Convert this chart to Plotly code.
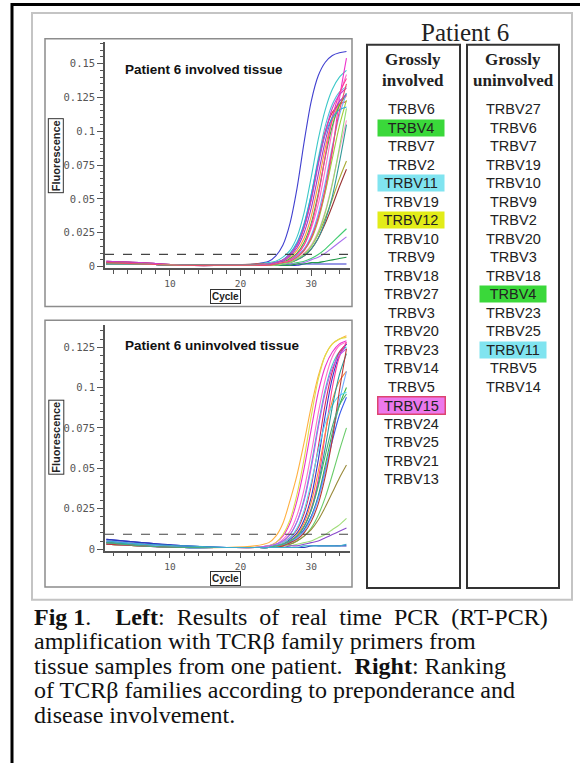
import plotly.graph_objects as go

# ------------------------------------------------------------
# data
# ------------------------------------------------------------

CYCLES = [1, 6, 12, 18, 22, 24, 25, 26, 27, 28, 29, 30, 31, 32, 33, 34, 35]

# fluorescence curves, involved tissue
INVOLVED_CURVES = [
    [0.004, 0.003, 0.001, 0.001, 0.002, 0.004, 0.008, 0.016, 0.032, 0.058, 0.092, 0.122, 0.141, 0.151, 0.156, 0.158, 0.159],
    [0.003, 0.002, 0.001, 0.001, 0.002, 0.003, 0.004, 0.007, 0.012, 0.022, 0.040, 0.066, 0.094, 0.116, 0.131, 0.140, 0.145],
    [0.002, 0.002, 0.001, 0.001, 0.001, 0.002, 0.003, 0.005, 0.009, 0.017, 0.031, 0.053, 0.080, 0.104, 0.120, 0.129, 0.133],
    [0.003, 0.002, 0.001, 0.001, 0.001, 0.001, 0.002, 0.003, 0.005, 0.008, 0.013, 0.022, 0.036, 0.056, 0.085, 0.124, 0.154],
    [0.002, 0.002, 0.001, 0.001, 0.001, 0.001, 0.002, 0.003, 0.005, 0.009, 0.016, 0.028, 0.046, 0.072, 0.101, 0.126, 0.142],
    [0.004, 0.003, 0.001, 0.001, 0.002, 0.002, 0.003, 0.005, 0.009, 0.016, 0.029, 0.050, 0.077, 0.100, 0.114, 0.120, 0.122],
    [0.003, 0.002, 0.001, 0.001, 0.001, 0.002, 0.003, 0.004, 0.007, 0.012, 0.021, 0.037, 0.061, 0.088, 0.108, 0.120, 0.126],
    [0.002, 0.002, 0.001, 0.001, 0.001, 0.001, 0.002, 0.003, 0.006, 0.010, 0.018, 0.032, 0.054, 0.081, 0.104, 0.119, 0.128],
    [0.003, 0.002, 0.001, 0.001, 0.001, 0.001, 0.002, 0.003, 0.004, 0.007, 0.012, 0.020, 0.034, 0.055, 0.080, 0.104, 0.123],
    [0.002, 0.002, 0.001, 0.001, 0.001, 0.001, 0.002, 0.003, 0.004, 0.008, 0.013, 0.023, 0.039, 0.062, 0.089, 0.112, 0.128],
    [0.003, 0.002, 0.001, 0.001, 0.001, 0.002, 0.003, 0.004, 0.008, 0.014, 0.025, 0.043, 0.068, 0.093, 0.111, 0.122, 0.127],
    [0.002, 0.002, 0.001, 0.001, 0.001, 0.001, 0.002, 0.003, 0.005, 0.009, 0.016, 0.030, 0.052, 0.082, 0.110, 0.128, 0.139],
    [0.003, 0.002, 0.001, 0.001, 0.001, 0.001, 0.002, 0.002, 0.003, 0.005, 0.008, 0.013, 0.021, 0.032, 0.045, 0.059, 0.072],
    [0.002, 0.002, 0.001, 0.001, 0.001, 0.001, 0.002, 0.002, 0.003, 0.005, 0.009, 0.015, 0.024, 0.036, 0.050, 0.065, 0.078],
    [0.002, 0.002, 0.001, 0.001, 0.001, 0.001, 0.001, 0.002, 0.002, 0.003, 0.004, 0.006, 0.009, 0.013, 0.018, 0.023, 0.028],
    [0.002, 0.002, 0.001, 0.001, 0.001, 0.001, 0.001, 0.001, 0.002, 0.002, 0.003, 0.005, 0.007, 0.010, 0.014, 0.018, 0.022],
    [0.003, 0.002, 0.001, 0.001, 0.001, 0.001, 0.002, 0.003, 0.004, 0.006, 0.010, 0.016, 0.026, 0.041, 0.062, 0.086, 0.108],
    [0.002, 0.002, 0.001, 0.001, 0.001, 0.002, 0.003, 0.005, 0.010, 0.018, 0.032, 0.053, 0.078, 0.098, 0.110, 0.116, 0.118],
    [0.002, 0.002, 0.001, 0.001, 0.001, 0.001, 0.001, 0.002, 0.003, 0.005, 0.008, 0.013, 0.021, 0.034, 0.052, 0.077, 0.105],
    [0.002, 0.002, 0.001, 0.001, 0.001, 0.001, 0.001, 0.001, 0.001, 0.001, 0.002, 0.002, 0.002, 0.002, 0.002, 0.002, 0.002],
    [0.003, 0.002, 0.001, 0.001, 0.001, 0.001, 0.001, 0.001, 0.001, 0.002, 0.002, 0.003, 0.003, 0.004, 0.005, 0.006, 0.007],
    [0.004, 0.003, 0.001, 0.001, 0.001, 0.002, 0.003, 0.005, 0.009, 0.016, 0.029, 0.049, 0.075, 0.099, 0.117, 0.127, 0.132],
    [0.002, 0.002, 0.001, 0.001, 0.001, 0.001, 0.001, 0.002, 0.003, 0.006, 0.009, 0.015, 0.025, 0.040, 0.061, 0.088, 0.117],
    [0.003, 0.002, 0.001, 0.001, 0.001, 0.001, 0.002, 0.003, 0.004, 0.007, 0.012, 0.021, 0.036, 0.058, 0.087, 0.115, 0.135],
]
INVOLVED_COLORS = [
    "#4040d0", "#3cc8c8", "#52bedc", "#ee33cc", "#ff70cc", "#dd3838",
    "#ff9a3a", "#3cb83c", "#a0cc3a", "#70aaff", "#9a40cc", "#ff3a99",
    "#993333", "#aaaa33", "#40cc70", "#aa70ee", "#ff9acc", "#2aaadd",
    "#339999", "#3333cc", "#22994a", "#cc3ccc", "#90dd70", "#ee4a6a",
]

# fluorescence curves, uninvolved tissue
UNINVOLVED_CURVES = [
    [0.005, 0.003, 0.001, 0.001, 0.002, 0.004, 0.008, 0.016, 0.030, 0.046, 0.066, 0.088, 0.107, 0.120, 0.127, 0.130, 0.132],
    [0.004, 0.003, 0.001, 0.001, 0.001, 0.002, 0.004, 0.008, 0.016, 0.030, 0.050, 0.074, 0.097, 0.113, 0.122, 0.127, 0.129],
    [0.005, 0.003, 0.001, 0.001, 0.001, 0.002, 0.003, 0.006, 0.011, 0.021, 0.037, 0.059, 0.084, 0.105, 0.119, 0.126, 0.128],
    [0.004, 0.003, 0.001, 0.001, 0.001, 0.002, 0.003, 0.005, 0.009, 0.017, 0.031, 0.052, 0.077, 0.099, 0.114, 0.122, 0.125],
    [0.004, 0.002, 0.001, 0.001, 0.001, 0.001, 0.002, 0.004, 0.007, 0.012, 0.022, 0.039, 0.063, 0.090, 0.110, 0.122, 0.127],
    [0.006, 0.004, 0.002, 0.001, 0.001, 0.001, 0.002, 0.003, 0.006, 0.010, 0.018, 0.032, 0.055, 0.083, 0.106, 0.120, 0.127],
    [0.003, 0.002, 0.001, 0.001, 0.001, 0.001, 0.002, 0.003, 0.005, 0.008, 0.014, 0.025, 0.043, 0.071, 0.100, 0.119, 0.128],
    [0.004, 0.003, 0.001, 0.001, 0.001, 0.001, 0.002, 0.003, 0.005, 0.009, 0.016, 0.029, 0.048, 0.072, 0.092, 0.104, 0.110],
    [0.003, 0.002, 0.001, 0.001, 0.001, 0.001, 0.002, 0.003, 0.004, 0.007, 0.012, 0.020, 0.033, 0.052, 0.072, 0.089, 0.100],
    [0.004, 0.003, 0.001, 0.001, 0.001, 0.001, 0.002, 0.004, 0.007, 0.013, 0.024, 0.041, 0.061, 0.078, 0.089, 0.095, 0.097],
    [0.005, 0.003, 0.001, 0.001, 0.001, 0.001, 0.002, 0.003, 0.004, 0.007, 0.012, 0.020, 0.032, 0.049, 0.067, 0.083, 0.094],
    [0.003, 0.002, 0.001, 0.001, 0.001, 0.001, 0.001, 0.002, 0.003, 0.005, 0.008, 0.013, 0.021, 0.032, 0.046, 0.061, 0.075],
    [0.003, 0.002, 0.001, 0.001, 0.001, 0.001, 0.001, 0.002, 0.003, 0.005, 0.008, 0.012, 0.018, 0.026, 0.035, 0.044, 0.052],
    [0.003, 0.002, 0.001, 0.001, 0.001, 0.001, 0.001, 0.002, 0.002, 0.003, 0.004, 0.005, 0.007, 0.009, 0.012, 0.015, 0.019],
    [0.004, 0.002, 0.001, 0.001, 0.001, 0.001, 0.001, 0.001, 0.002, 0.002, 0.003, 0.004, 0.005, 0.007, 0.009, 0.011, 0.013],
    [0.003, 0.002, 0.001, 0.001, 0.001, 0.002, 0.004, 0.009, 0.018, 0.034, 0.056, 0.082, 0.105, 0.120, 0.127, 0.130, 0.131],
    [0.004, 0.003, 0.001, 0.001, 0.001, 0.001, 0.002, 0.003, 0.005, 0.008, 0.014, 0.024, 0.040, 0.063, 0.088, 0.108, 0.121],
    [0.003, 0.002, 0.001, 0.001, 0.001, 0.002, 0.003, 0.005, 0.009, 0.017, 0.030, 0.050, 0.075, 0.097, 0.112, 0.120, 0.124],
    [0.005, 0.003, 0.001, 0.001, 0.001, 0.001, 0.002, 0.003, 0.004, 0.007, 0.011, 0.019, 0.031, 0.048, 0.070, 0.092, 0.110],
    [0.006, 0.004, 0.002, 0.001, 0.001, 0.001, 0.001, 0.001, 0.001, 0.001, 0.001, 0.002, 0.002, 0.002, 0.002, 0.002, 0.002],
    [0.003, 0.002, 0.001, 0.001, 0.001, 0.001, 0.001, 0.002, 0.004, 0.006, 0.010, 0.017, 0.028, 0.045, 0.068, 0.098, 0.124],
    [0.004, 0.002, 0.001, 0.001, 0.001, 0.001, 0.002, 0.003, 0.005, 0.008, 0.014, 0.024, 0.039, 0.058, 0.076, 0.089, 0.096],
    [0.005, 0.003, 0.002, 0.001, 0.001, 0.001, 0.001, 0.001, 0.001, 0.001, 0.002, 0.002, 0.002, 0.002, 0.002, 0.002, 0.003],
]
UNINVOLVED_COLORS = [
    "#ffb040", "#ee33cc", "#ff70cc", "#3cc8c8", "#dd2a5a", "#3535cc",
    "#ff3a99", "#ff8a3a", "#3cb83c", "#5adcee", "#3a5aee", "#6acc6a",
    "#998a3a", "#a0dd7a", "#8a4acc", "#e0dc4a", "#2a9a9a", "#bb5aee",
    "#70aaff", "#2a3abb", "#bb3838", "#4aaa7a", "#3aaacc",
]

THRESHOLD_INVOLVED = 0.009
THRESHOLD_UNINVOLVED = 0.0092

Y_TICKS = [0, 0.025, 0.05, 0.075, 0.1, 0.125, 0.15]
Y_TICK_TEXT = ["0", "0.025", "0.05", "0.075", "0.1", "0.125", "0.15"]
X_TICKS = [10, 20, 30]

RANK_INVOLVED = [
    "TRBV6", "TRBV4", "TRBV7", "TRBV2", "TRBV11", "TRBV19", "TRBV12",
    "TRBV10", "TRBV9", "TRBV18", "TRBV27", "TRBV3", "TRBV20", "TRBV23",
    "TRBV14", "TRBV5", "TRBV15", "TRBV24", "TRBV25", "TRBV21", "TRBV13",
]
RANK_UNINVOLVED = [
    "TRBV27", "TRBV6", "TRBV7", "TRBV19", "TRBV10", "TRBV9", "TRBV2",
    "TRBV20", "TRBV3", "TRBV18", "TRBV4", "TRBV23", "TRBV25", "TRBV11",
    "TRBV5", "TRBV14",
]

# first line is set wider in the original (loose word spacing)
NB = "\u00a0"
CAPTION_LINES = [
    f"<b>Fig 1</b>.{NB}{NB}{NB} <b>Left</b>:{NB} Results{NB} of{NB} real{NB} time{NB} PCR{NB} (RT-PCR)",
    "amplification with TCRβ family primers from",
    f"tissue samples from one patient.{NB} <b>Right</b>: Ranking",
    "of TCRβ families according to preponderance and",
    "disease involvement.",
]

# ------------------------------------------------------------
# layout helpers (pixel -> paper)
# ------------------------------------------------------------

W, H = 580, 767

HIGHLIGHT = {
    "TRBV4": ("#3ad83a", None),
    "TRBV11": ("#80e4f0", None),
    "TRBV12": ("#e2ec18", None),
    "TRBV15": ("#ec78ec", "#dd4470"),
}


def px(x):
    return x / W


def py(y):
    return 1 - y / H


SERIF = "Liberation Serif, Times New Roman, serif"
SANS = "Liberation Sans, Arial, sans-serif"
MONO = "DejaVu Sans Mono, monospace"

fig = go.Figure()

for vals, cor in zip(INVOLVED_CURVES, INVOLVED_COLORS):
    fig.add_trace(go.Scatter(
        x=CYCLES, y=vals, mode="lines", xaxis="x", yaxis="y",
        line=dict(color=cor, width=1.1, shape="spline", smoothing=0.8),
        showlegend=False, hoverinfo="skip"
    ))

for vals, cor in zip(UNINVOLVED_CURVES, UNINVOLVED_COLORS):
    fig.add_trace(go.Scatter(
        x=CYCLES, y=vals, mode="lines", xaxis="x2", yaxis="y2",
        line=dict(color=cor, width=1.1, shape="spline", smoothing=0.8),
        showlegend=False, hoverinfo="skip"
    ))

# threshold lines
for yref, xref, thr in [("y", "x domain", THRESHOLD_INVOLVED),
                        ("y2", "x2 domain", THRESHOLD_UNINVOLVED)]:
    fig.add_shape(type="line", xref=xref, yref=yref, x0=0, x1=1,
                  y0=thr, y1=thr, line=dict(color="#444", width=1.2, dash="dash"))

# outer black border: only its top and left edges fall inside the page
for x0, y0, x1, y1 in [(11, 4.5, 580, 4.5), (12, 3, 12, 767)]:
    fig.add_shape(type="line", xref="paper", yref="paper",
                  x0=px(x0), x1=px(x1), y0=py(y0), y1=py(y1),
                  line=dict(color="black", width=3))

# frames
frames = [
    (32, 13, 572, 603, "#c4c4c4", 2),      # picture frame
    (45, 39, 352, 308, "#8c8c8c", 1.5),    # top panel
    (45, 322, 352, 590, "#8c8c8c", 1.5),   # bottom panel
    (367, 45, 460, 591, "#333333", 2),     # involved ranking
    (467, 45, 559, 591, "#333333", 2),     # uninvolved ranking
]
for x0, y0, x1, y1, cor, lw in frames:
    fig.add_shape(type="rect", xref="paper", yref="paper",
                  x0=px(x0), x1=px(x1), y0=py(y0), y1=py(y1),
                  line=dict(color=cor, width=lw), layer="below")

anots = []


def texto(x, y, t, font, xanchor="center", **kw):
    d = dict(x=px(x), y=py(y), xref="paper", yref="paper", text=t,
             showarrow=False, xanchor=xanchor, yanchor="middle", font=font)
    d.update(kw)
    anots.append(d)


# panel titles and axis titles
for titulo, y_tit, y_fl, y_cy in [
    ("Patient 6 involved tissue", 70, 157, 298),
    ("Patient 6 uninvolved tissue", 347, 440, 582),
]:
    texto(123, y_tit, f"<b>{titulo}</b>", dict(family=SANS, size=13.5, color="#111"),
          xanchor="left")
    texto(56, y_fl, "<b>Fluorescence</b>", dict(family=SANS, size=11, color="#222"),
          textangle=-90, bordercolor="#333", borderwidth=1, borderpad=1)
    texto(225, y_cy, "<b>Cycle</b>", dict(family=SANS, size=10, color="#222"),
          bordercolor="#333", borderwidth=1, borderpad=1)

# ranking headers
texto(465, 33, "Patient 6", dict(family=SERIF, size=25, color="#222"))
for xc, linha2 in [(413, "involved"), (513, "uninvolved")]:
    texto(xc, 60, "<b>Grossly</b>", dict(family=SERIF, size=17, color="#222"))
    texto(xc, 81, f"<b>{linha2}</b>", dict(family=SERIF, size=17, color="#222"))

# ranking lists
for xc, lista in [(411, RANK_INVOLVED), (513, RANK_UNINVOLVED)]:
    for i, nome in enumerate(lista):
        extra = {}
        if nome in HIGHLIGHT:
            fundo, borda = HIGHLIGHT[nome]
            extra = dict(bgcolor=fundo, width=66, height=16, borderpad=0)
            if borda:
                extra.update(bordercolor=borda, borderwidth=1.5)
        texto(xc, 110 + i * 18.6, nome, dict(family=SANS, size=14.5, color="#222"), **extra)

# caption
for i, linha in enumerate(CAPTION_LINES):
    texto(32, 620 + i * 24.6, linha, dict(family=SERIF, size=24, color="#111"),
          xanchor="left")

eixo_x = dict(
    range=[0.8, 35.5], tickvals=X_TICKS, ticks="outside", ticklen=6,
    tickcolor="#555", showline=True, linecolor="#555", linewidth=1.5,
    showgrid=False, zeroline=False,
    minor=dict(dtick=2, tick0=0, ticks="outside", ticklen=4, tickcolor="#555"),
    tickfont=dict(family=MONO, size=9.5, color="#555"),
)
eixo_y = dict(
    tickvals=Y_TICKS, ticktext=Y_TICK_TEXT, ticks="outside", ticklen=6,
    tickcolor="#555", showline=True, linecolor="#555", linewidth=1.5,
    showgrid=False, zeroline=False,
    minor=dict(dtick=0.005, tick0=0, ticks="outside", ticklen=3, tickcolor="#555"),
    tickfont=dict(family=MONO, size=10.5, color="#555"),
)

fig.update_layout(
    width=W, height=H,
    margin=dict(l=0, r=0, t=0, b=0),
    paper_bgcolor="white", plot_bgcolor="white",
    showlegend=False,
    xaxis=dict(eixo_x, domain=[px(105), px(350)], anchor="y"),
    yaxis=dict(eixo_y, domain=[py(269.4), py(42.2)], range=[-0.001, 0.166], anchor="x"),
    xaxis2=dict(eixo_x, domain=[px(105), px(350)], anchor="y2"),
    yaxis2=dict(eixo_y, domain=[py(553.6), py(327)], range=[-0.001, 0.1385], anchor="x2"),
    annotations=anots,
)

# the page body has a default 8px margin; drop it so the figure fills the window
fig.write_html("out.html", config={"displayModeBar": False},
               post_script="document.body.style.margin='0';")
